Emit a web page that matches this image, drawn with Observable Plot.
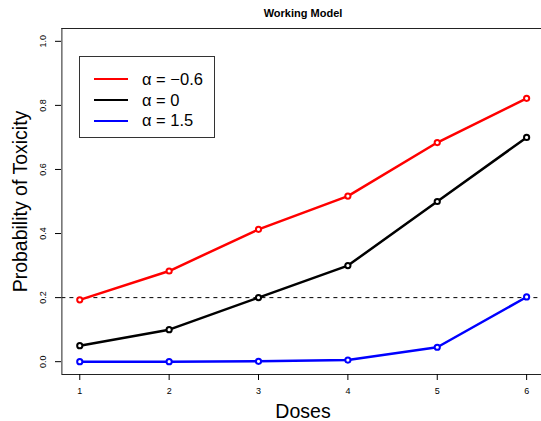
<!DOCTYPE html>
<html>
<head>
<meta charset="utf-8">
<script src="https://cdn.jsdelivr.net/npm/d3@7"></script>
<script src="https://cdn.jsdelivr.net/npm/@observablehq/plot@0.6"></script>
<style>
  body { margin: 0; background: #fff; }
  #wrap { position: relative; width: 541px; height: 421px; font-family: "Liberation Sans", Arial, sans-serif; }
  #legend { position: absolute; left: 79px; top: 56px; width: 136px; height: 82px; border: 1px solid #333; box-sizing: border-box; background: #fff; }
  .row { position: absolute; left: 14px; height: 20px; display: flex; align-items: center; }
  .sw { width: 34px; height: 0; border-top: 2.5px solid; margin-right: 14px; }
  .lab { font-size: 16.5px; color: #000; white-space: nowrap; }
</style>
</head>
<body>
<div id="wrap"></div>
<script>
const doses = [1, 2, 3, 4, 5, 6];
const probNeg = [0.193, 0.283, 0.413, 0.517, 0.684, 0.822];
const probZero = [0.05, 0.10, 0.20, 0.30, 0.50, 0.70];
const probPos = [0.000, 0.000, 0.001, 0.005, 0.045, 0.202];
const seriesNames = ["α = −0.6", "α = 0", "α = 1.5"];
const seriesColors = ["#ff0000", "#000000", "#0000ff"];
const yTicks = [0.0, 0.2, 0.4, 0.6, 0.8, 1.0];
const xTicks = [1, 2, 3, 4, 5, 6];
const target = 0.2;
const title = "Working Model";
const xLabel = "Doses";
const yLabel = "Probability of Toxicity";

const allSeries = [probNeg, probZero, probPos];
const seriesMarks = allSeries.flatMap((vals, i) => {
  const data = doses.map((d, j) => ({dose: d, p: vals[j]}));
  return [
    Plot.line(data, {x: "dose", y: "p", stroke: seriesColors[i], strokeWidth: 2.5}),
    Plot.dot(data, {x: "dose", y: "p", r: 2.6, stroke: seriesColors[i], strokeWidth: 2, fill: "white"})
  ];
});

const chart = Plot.plot({
  width: 541,
  height: 421,
  marginLeft: 61,
  marginRight: 0,
  marginTop: 28,
  marginBottom: 47,
  style: {fontFamily: "'Liberation Sans', Arial, sans-serif", background: "white", color: "black"},
  x: {domain: [0.8, 6.2], range: [61.4, 544], axis: null},
  y: {domain: [-0.04, 1.04], range: [374, 28], axis: null},
  marks: [
    Plot.ruleY([target], {x1: 0.8, x2: 6.2, stroke: "black", strokeWidth: 1, strokeDasharray: "4,4"}),
    Plot.ruleX([0.8], {y1: -0.04, y2: 1.04, stroke: "#222", strokeWidth: 1}),
    Plot.ruleY([-0.04, 1.04], {x1: 0.8, x2: 6.2, stroke: "#222", strokeWidth: 1}),
    Plot.axisX({ticks: xTicks, tickSize: 6, tickPadding: 7, fontSize: 9, anchor: "bottom", label: null, tickFormat: d3.format("d")}),
    Plot.axisY({ticks: yTicks, tickSize: 6, anchor: "left", label: null, tickFormat: () => ""}),
    Plot.text(yTicks, {y: d => d, text: d3.format(".1f"), frameAnchor: "left", dx: -18, rotate: -90, fontSize: 9, textAnchor: "middle"}),
    ...seriesMarks,
    Plot.text([title], {frameAnchor: "top", dy: -15, dx: 1.5, fontSize: 11, fontWeight: "bold", lineAnchor: "middle"}),
    Plot.text([xLabel], {frameAnchor: "bottom", dy: 37, dx: 1.5, fontSize: 19.5, lineAnchor: "middle", textAnchor: "middle"}),
    Plot.text([yLabel], {frameAnchor: "left", dx: -41, rotate: -90, fontSize: 19.5, lineAnchor: "middle", textAnchor: "middle"})
  ]
});

const wrap = document.getElementById("wrap");
wrap.appendChild(chart);

const legend = document.createElement("div");
legend.id = "legend";
const rowTops = [12, 33, 53.5];
seriesNames.forEach((name, i) => {
  const row = document.createElement("div");
  row.className = "row";
  row.style.top = rowTops[i] + "px";
  const sw = document.createElement("div");
  sw.className = "sw";
  sw.style.borderTopColor = seriesColors[i];
  const lab = document.createElement("span");
  lab.className = "lab";
  lab.textContent = name;
  row.appendChild(sw);
  row.appendChild(lab);
  legend.appendChild(row);
});
wrap.appendChild(legend);
</script>
</body>
</html>
